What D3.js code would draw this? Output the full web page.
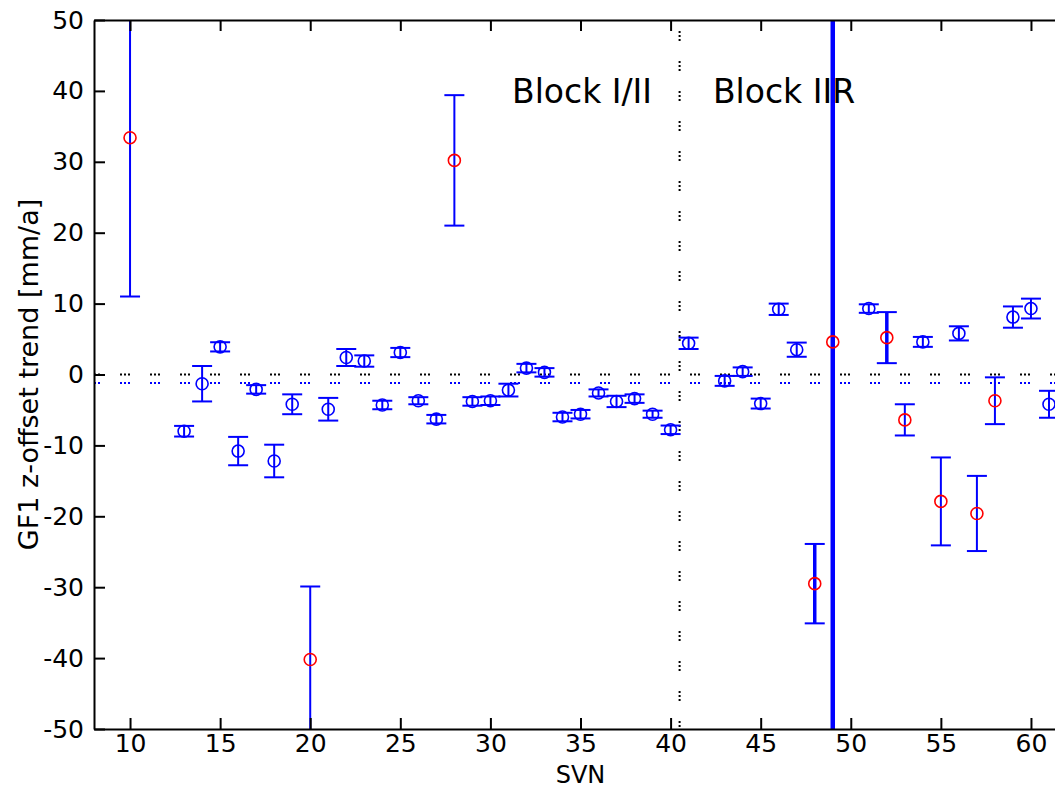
<!DOCTYPE html>
<html>
<head>
<meta charset="utf-8">
<script src="https://cdn.jsdelivr.net/npm/d3@7"></script>
<style>
    body { margin: 0; background: #fff; }
    svg { display: block; font-family: "DejaVu Sans", sans-serif; }
</style>
</head>
<body>
<div id="chart"></div>
<script>
// SVN numbers, trend values [mm/a] and 1-sigma errors
var svn = [10, 13, 14, 15, 16, 17, 18, 19, 20, 21, 22, 23, 24, 25, 26, 27, 28, 29, 30, 31, 32, 33, 34, 35, 36, 37, 38, 39, 40, 41,
    43, 44, 45, 46, 47, 48, 49, 51, 52, 53, 54, 55, 56, 57, 58, 59, 60, 61];
var trend = [33.4, -8.0, -1.3, 3.9, -10.8, -2.1, -12.2, -4.2, -40.2, -4.9, 2.4, 1.9, -4.3, 3.1, -3.7, -6.3, 30.2, -3.8, -3.7, -2.2, 0.9, 0.3, -6.0, -5.6, -2.6, -3.8, -3.4, -5.6, -7.8, 4.4,
    -0.9, 0.4, -4.1, 9.2, 3.5, -29.5, 4.6, 9.3, 5.2, -6.4, 4.6, -17.9, 5.8, -19.6, -3.7, 8.1, 9.3, -4.2];
var sigma = [22.4, 0.75, 2.5, 0.65, 2.0, 0.6, 2.3, 1.4, 10.3, 1.6, 1.2, 0.8, 0.6, 0.65, 0.5, 0.6, 9.2, 0.6, 0.6, 0.9, 0.6, 0.6, 0.6, 0.6, 0.5, 0.8, 0.6, 0.5, 0.6, 0.8,
    0.7, 0.6, 0.7, 0.8, 1.0, 5.6, 200, 0.6, 3.6, 2.2, 0.7, 6.2, 1.0, 5.3, 3.3, 1.5, 1.4, 1.9];

// satellites drawn with red markers
var redSvn = [10, 20, 28, 48, 49, 52, 53, 55, 57, 58];
// error bars drawn heavier
var heavySvn = { 48: 3.5, 52: 3.5, 49: 4.5 };

// reference lines and block labels
var zeroLine = 0;
var meanLine = -1.2;
var blockBorder = 40.5;
var blockLabels = [{ text: "Block I/II", at: 31.2 }, { text: "Block IIR", at: 42.35 }];

var xTicks = [10, 15, 20, 25, 30, 35, 40, 45, 50, 55, 60];
var yTicks = [-50, -40, -30, -20, -10, 0, 10, 20, 30, 40, 50];

function init() {
    var w = 1055, h = 790;
    var left = 94, right = 1067, top = 20, bottom = 729;

    var x = d3.scaleLinear().domain([8, 62]).range([left, right]);
    var y = d3.scaleLinear().domain([-50, 50]).range([bottom, top]);

    var svg = d3.select("#chart").append("svg")
        .attr("width", w)
        .attr("height", h);

    svg.append("clipPath").attr("id", "plot")
        .append("rect")
        .attr("x", left).attr("y", top)
        .attr("width", right - left).attr("height", bottom - top);

    var plot = svg.append("g").attr("clip-path", "url(#plot)");

    // dotted reference lines
    plot.append("line")
        .attr("x1", left).attr("x2", right)
        .attr("y1", y(zeroLine)).attr("y2", y(zeroLine))
        .attr("stroke", "#000").attr("stroke-width", 2)
        .attr("stroke-dasharray", "2,2,2,2,2,20").attr("stroke-dashoffset", 4);
    plot.append("line")
        .attr("x1", left).attr("x2", right)
        .attr("y1", y(meanLine)).attr("y2", y(meanLine))
        .attr("stroke", "#0000ff").attr("stroke-width", 2)
        .attr("stroke-dasharray", "2,2,2,2,2,20").attr("stroke-dashoffset", 4);
    plot.append("line")
        .attr("x1", x(blockBorder)).attr("x2", x(blockBorder))
        .attr("y1", top).attr("y2", bottom)
        .attr("stroke", "#000").attr("stroke-width", 2)
        .attr("stroke-dasharray", "2,2,2,2,2,20").attr("stroke-dashoffset", 19);

    var data = svn.map(function (s, i) {
        return { svn: s, v: trend[i], e: sigma[i], red: redSvn.indexOf(s) >= 0 };
    });

    // error bars
    var bars = plot.selectAll("g.bar")
        .data(data)
        .enter()
        .append("g")
        .attr("class", "bar")
        .attr("stroke", "#0000ff")
        .attr("stroke-width", function (d) { return heavySvn[d.svn] || 2; });

    bars.append("line")
        .attr("x1", function (d) { return x(d.svn); })
        .attr("x2", function (d) { return x(d.svn); })
        .attr("y1", function (d) { return y(d.v + d.e); })
        .attr("y2", function (d) { return y(d.v - d.e); });
    bars.append("line")
        .attr("stroke-width", 2)
        .attr("x1", function (d) { return x(d.svn) - 10; })
        .attr("x2", function (d) { return x(d.svn) + 10; })
        .attr("y1", function (d) { return y(d.v + d.e); })
        .attr("y2", function (d) { return y(d.v + d.e); });
    bars.append("line")
        .attr("stroke-width", 2)
        .attr("x1", function (d) { return x(d.svn) - 10; })
        .attr("x2", function (d) { return x(d.svn) + 10; })
        .attr("y1", function (d) { return y(d.v - d.e); })
        .attr("y2", function (d) { return y(d.v - d.e); });

    // markers
    plot.selectAll("circle")
        .data(data)
        .enter()
        .append("circle")
        .attr("cx", function (d) { return x(d.svn); })
        .attr("cy", function (d) { return y(d.v); })
        .attr("r", 6)
        .attr("fill", "none")
        .attr("stroke", function (d) { return d.red ? "#ff0000" : "#0000ff"; })
        .attr("stroke-width", 1.6);

    // block labels
    svg.selectAll("text.block")
        .data(blockLabels)
        .enter()
        .append("text")
        .attr("class", "block")
        .attr("x", function (d) { return x(d.at); })
        .attr("y", 103)
        .style("font-size", "33px")
        .style("fill", "#000")
        .text(function (d) { return d.text; });

    // axes (ticks pointing inward, box on all sides)
    var plain = function (d) { return String(d); };
    function styleAxis(g) {
        g.select(".domain").attr("stroke", "#000").attr("stroke-width", 2);
        g.selectAll(".tick line").attr("stroke", "#000").attr("stroke-width", 2);
        g.selectAll(".tick text").style("font-size", "25px").style("fill", "#000")
            .style("font-family", "'DejaVu Sans', sans-serif");
    }

    svg.append("g")
        .attr("transform", "translate(0," + bottom + ")")
        .call(d3.axisBottom(x).tickValues(xTicks).tickFormat(plain).tickSizeInner(-11).tickSizeOuter(0).tickPadding(5))
        .call(styleAxis);
    svg.append("g")
        .attr("transform", "translate(0," + top + ")")
        .call(d3.axisTop(x).tickValues(xTicks).tickSizeInner(-11).tickSizeOuter(0).tickFormat(""))
        .call(styleAxis);
    svg.append("g")
        .attr("transform", "translate(" + left + ",0)")
        .call(d3.axisLeft(y).tickValues(yTicks).tickFormat(plain).tickSizeInner(-11).tickSizeOuter(0).tickPadding(10))
        .call(styleAxis);
    svg.append("g")
        .attr("transform", "translate(" + right + ",0)")
        .call(d3.axisRight(y).tickValues(yTicks).tickSizeInner(-11).tickSizeOuter(0).tickFormat(""))
        .call(styleAxis);

    // axis titles
    svg.append("text")
        .attr("x", (left + right) / 2)
        .attr("y", 783)
        .attr("text-anchor", "middle")
        .style("font-size", "24px")
        .text("SVN");

    svg.append("text")
        .attr("transform", "translate(38," + (top + bottom) / 2 + ") rotate(-90)")
        .attr("text-anchor", "middle")
        .style("font-size", "27px")
        .text("GF1 z-offset trend [mm/a]");
}

window.onload = init;
</script>
</body>
</html>
